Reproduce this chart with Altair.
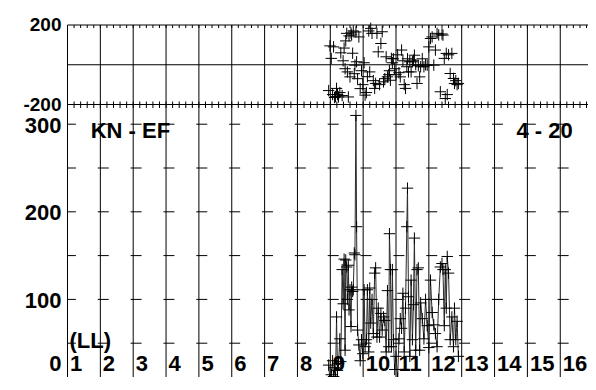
import altair as alt
import pandas as pd

# ---- data ----
t_vals = [8.95, 8.99, 9.03, 9.07, 9.10, 9.13, 9.16, 9.19, 9.22, 9.25, 9.29, 9.32, 9.36, 9.39,
          9.42, 9.45, 9.47, 9.50, 9.52, 9.55, 9.57, 9.60, 9.63, 9.65, 9.68, 9.70, 9.73, 9.75,
          9.78, 9.80, 9.83, 9.87, 9.91, 9.95, 9.99, 10.03, 10.06, 10.10, 10.13, 10.17, 10.20,
          10.23, 10.27, 10.31, 10.35, 10.38, 10.42, 10.46, 10.50, 10.54, 10.58, 10.62, 10.66,
          10.70, 10.74, 10.78, 10.80, 10.83, 10.86, 10.89, 10.92, 10.96, 11.00, 11.05, 11.09,
          11.13, 11.17, 11.21, 11.25, 11.29, 11.33, 11.35, 11.38, 11.42, 11.46, 11.50, 11.53,
          11.56, 11.60, 11.64, 11.68, 11.72, 11.75, 11.80, 11.85, 11.90, 11.95, 12.00, 12.05,
          12.10, 12.15, 12.20, 12.25, 12.30, 12.35, 12.40, 12.43, 12.47, 12.50, 12.53, 12.56,
          12.60, 12.65, 12.70, 12.75, 12.78, 12.82, 12.86, 12.90]
amp_vals = [25, 8, 14, 30, 12, 22, 10, 80, 19, 27, 55, 29, 134, 95,
            146, 42, 145, 137, 100, 139, 88, 111, 69, 114, 109, 111, 153, 151,
            310, 183, 65, 48, 30, 54, 38, 111, 46, 54, 111, 40, 113,
            73, 100, 61, 130, 136, 57, 90, 57, 84, 65, 80, 76,
            40, 110, 46, 175, 134, 46, 134, 54, 20, 35, 10, 55,
            78, 67, 107, 40, 90, 183, 227, 103, 35, 122, 54, 94,
            170, 42, 134, 136, 42, 96, 78, 55, 100, 70, 45, 122,
            85, 71, 61, 46, 100, 137, 141, 134, 70, 134, 90, 149,
            130, 54, 80, 46, 90, 54, 75, 35]
phase_vals = [-130, 95, 32, -150, 90, -165, -160, -119, -150, -162, -140, 60, -155, 20,
              84, -20, 120, 158, -36, -162, 145, -61, 160, 150, 58, 170, -45, -2,
              165, 15, -70, 140, -120, -30, -100, 10, -153, -140, -60, 170, -36,
              183, 158, -80, -119, -94, 158, 65, -100, 107, 166, -86, -70,
              40, -61, -50, -30, -78, 32, 10, 30, -20, -50, 50, -40,
              -61, 74, 20, -100, -119, -10, 30, -36, 15, -36, 15, 23,
              48, 0, -94, -5, -61, -10, 30, -10, 0, -2, 90, 132,
              140, -2, 74, 158, 150, -136, 155, 149, 32, -170, 57, -150,
              50, -44, 57, -69, -94, -80, -100, -94]
grid_x = [1, 2, 3, 4, 5, 6, 7, 8, 9, 10, 11, 12, 13, 14, 15, 16]
grid_labels = ["1", "2", "3", "4", "5", "6", "7", "8", "9", "10", "11", "12", "13", "14", "15", "16"]
top_y_grid = [-200, 0, 200]
top_y_ticks = [-200, 200]
top_y_labels = ["-200", "200"]
bot_y_grid = [50, 100, 150, 200, 250, 300]
bot_y_ticks = [100, 200, 300]
bot_y_labels = ["100", "200", "300"]
bot_zero_label = ["0"]
title_left = ["KN - EF"]
title_right = ["4 - 20"]
unit_label = ["(LL)"]

df = pd.DataFrame({"x": t_vals, "amp": amp_vals, "phase": phase_vals})
gdf = pd.DataFrame({"x": grid_x, "lab": grid_labels})
minor_df = pd.DataFrame({"x": [1 + i / 5 for i in range(80)]})

UNIT = 32.85
W, H = 528.5, 362
H_TOP = 79.5
FONT = "Liberation Sans"
CROSS = "M-1,0L1,0M0,-1L0,1"
xs = alt.Scale(domain=[1, 17], range=[0, 16 * UNIT], nice=False, zero=False)
top_s = alt.Scale(domain=[-200, 200], range=[H_TOP, 0], nice=False, zero=False)
bot_s = alt.Scale(domain=[0, 322.5], range=[H, H_TOP], nice=False, zero=False)
X = alt.X("x:Q", scale=xs, axis=None)

# grids
vgrid = alt.Chart(gdf).mark_rule(color="black", strokeWidth=1).encode(x=X)
tgrid = alt.Chart(pd.DataFrame({"v": top_y_grid})).mark_rule(color="black", strokeWidth=1).encode(
    y=alt.Y("v:Q", scale=top_s, axis=None))
bgrid = alt.Chart(pd.DataFrame({"v": bot_y_grid})).mark_rule(
    color="black", strokeWidth=1, strokeDash=[11, UNIT - 11], strokeDashOffset=5.5).encode(
    y=alt.Y("v:Q", scale=bot_s, axis=None))
baxis = alt.Chart(pd.DataFrame({"v": [0]})).mark_rule(color="black", strokeWidth=1).encode(
    y=alt.Y("v:Q", scale=bot_s, axis=None))

# minor ticks along the panel edges
def minor_ticks(y1, y2):
    return alt.Chart(minor_df).mark_rule(color="black", strokeWidth=1).encode(
        x=X, y=alt.value(y1), y2=alt.value(y2))

mt_top = minor_ticks(0, 3)
mt_mid = minor_ticks(H_TOP - 3, H_TOP + 3.5)
mt_bot = minor_ticks(H, H + 4)

# y labels
tlab = alt.Chart(pd.DataFrame({"v": top_y_ticks, "s": top_y_labels})).mark_text(
    dy=0, font=FONT, fontWeight="bold", fontSize=19, color="black", align="right", baseline="middle").encode(
    x=alt.value(-6), y=alt.Y("v:Q", scale=top_s, axis=None), text="s:N")
blab = alt.Chart(pd.DataFrame({"v": bot_y_ticks, "s": bot_y_labels})).mark_text(
    dy=1.5, font=FONT, fontWeight="bold", fontSize=22, color="black", align="right", baseline="middle").encode(
    x=alt.value(-6), y=alt.Y("v:Q", scale=bot_s, axis=None), text="s:N")
zlab = alt.Chart(pd.DataFrame({"s": bot_zero_label})).mark_text(
    font=FONT, fontWeight="bold", fontSize=22, color="black", align="right", baseline="alphabetic").encode(
    x=alt.value(-6), y=alt.value(H - 16), text="s:N")

# data
cross = dict(shape=CROSS, size=130, filled=False, color="black", strokeWidth=1, opacity=1)
top_pts = alt.Chart(df).mark_point(**cross).encode(x=X, y=alt.Y("phase:Q", scale=top_s, axis=None))
bot_line = alt.Chart(df).mark_line(color="#2a2a2a", strokeWidth=1).encode(
    x=X, y=alt.Y("amp:Q", scale=bot_s, axis=None))
bot_pts = alt.Chart(df).mark_point(**cross).encode(x=X, y=alt.Y("amp:Q", scale=bot_s, axis=None))

# texts
txt = dict(font=FONT, fontWeight="bold", fontSize=22, color="black", baseline="alphabetic", align="left")
nums = alt.Chart(gdf).mark_text(dx=2.5, **txt).encode(x=X, y=alt.value(H_TOP + 266.3), text="lab:N")
ll = alt.Chart(pd.DataFrame({"s": unit_label})).mark_text(**txt).encode(
    x=alt.value(2), y=alt.value(H_TOP + 243), text="s:N")
kn = alt.Chart(pd.DataFrame({"s": title_left})).mark_text(**txt).encode(
    x=alt.value(23.2), y=alt.value(H_TOP + 33.6), text="s:N")
dt = alt.Chart(pd.DataFrame({"s": title_right})).mark_text(**txt).encode(
    x=alt.value(449), y=alt.value(H_TOP + 33.8), text="s:N")

chart = alt.layer(
    vgrid, tgrid, bgrid, baxis, mt_top, mt_mid, mt_bot, tlab, blab, zlab,
    top_pts, bot_line, bot_pts, nums, ll, kn, dt
).resolve_scale(y="independent").properties(
    width=W, height=H,
    autosize=alt.AutoSizeParams(type="none"),
    padding={"left": 59.5, "top": 17, "right": -8, "bottom": -10}
).configure_view(stroke=None)

chart.save("out.html", embed_options={"renderer": "svg", "actions": False})
